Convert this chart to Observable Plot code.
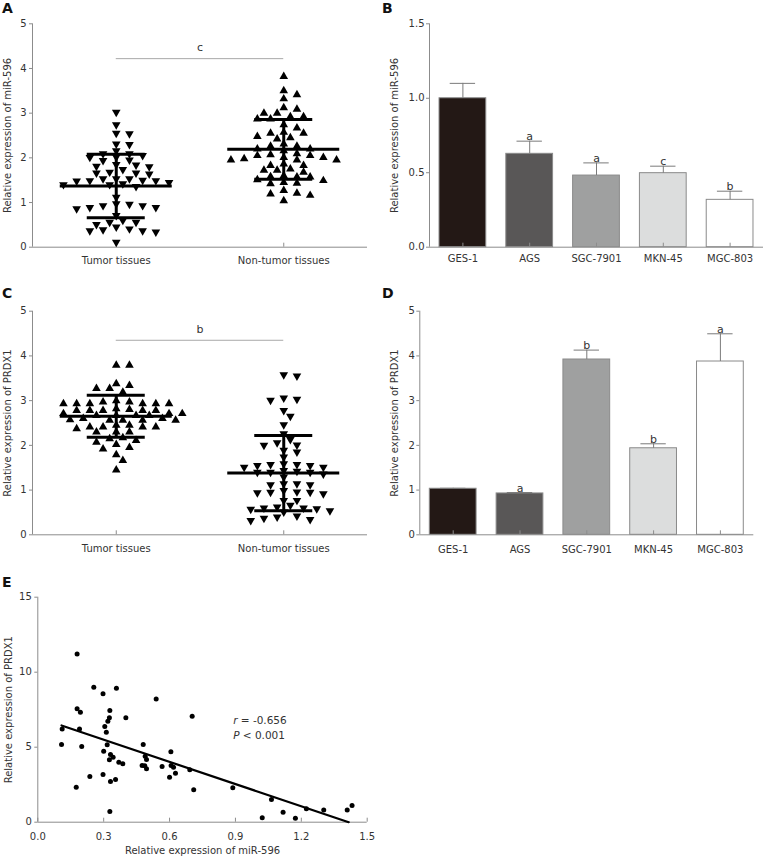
<!DOCTYPE html>
<html>
<head>
<meta charset="utf-8">
<script src="https://cdn.jsdelivr.net/npm/d3@7"></script>
<script src="https://cdn.jsdelivr.net/npm/@observablehq/plot@0.6"></script>
<style>
  html, body { margin: 0; padding: 0; background: #fff; }
  #fig { position: relative; width: 765px; height: 860px; overflow: hidden; font-family: "DejaVu Sans", Verdana, sans-serif; }
  .letter { position: absolute; font-weight: bold; font-size: 14px; line-height: 1; color: #111; }
  #fig svg { position: absolute; }
</style>
</head>
<body>
<div id="fig"></div>
<script>
// ---------------- data ----------------
const scatterGroups = ["Tumor tissues", "Non-tumor tissues"];
const scatterYTicks = [0, 1, 2, 3, 4, 5];

// A: miR-596 in tissues
const miR596Tumor = [3.02, 2.74, 2.54, 2.55, 2.30, 2.31, 2.16, 2.09, 2.09, 2.01, 1.94, 1.95, 2.02, 2.05, 1.84, 1.81, 1.68, 1.85, 1.74, 1.80, 1.66, 1.64, 1.66, 1.49, 1.53, 1.53, 1.49, 1.48, 1.53, 1.45, 1.50, 1.40, 1.36, 1.42, 1.40, 1.12, 0.97, 0.93, 0.89, 0.93, 0.86, 0.89, 0.96, 0.71, 0.56, 0.51, 0.45, 0.56, 0.60, 0.41, 0.37, 0.39, 0.34, 0.37, 0.11];
const miR596NonTumor = [3.82, 3.50, 3.41, 3.32, 3.12, 3.09, 3.00, 2.92, 3.00, 2.92, 2.87, 2.87, 2.74, 2.67, 2.57, 2.55, 2.55, 2.48, 2.45, 2.42, 2.31, 2.26, 2.26, 2.20, 2.20, 2.16, 2.09, 2.05, 2.01, 2.07, 2.05, 1.95, 1.95, 1.95, 1.98, 2.01, 1.86, 1.83, 1.83, 1.68, 1.75, 1.72, 1.72, 1.57, 1.57, 1.49, 1.51, 1.60, 1.58, 1.43, 1.42, 1.45, 1.27, 1.21, 1.19, 1.16, 1.04];
const miR596Mean = [1.37, 2.19];
const miR596SD = [0.71, 0.67];
const miR596Sig = "c";
const miR596SigLevel = 4.22;

// C: PRDX1 in tissues
const prdx1Tumor = [3.79, 3.79, 3.34, 3.27, 3.27, 3.38, 3.19, 2.93, 2.93, 3.00, 2.93, 2.97, 2.93, 2.93, 2.97, 2.93, 2.78, 2.78, 2.82, 2.78, 2.78, 2.78, 2.80, 2.71, 2.67, 2.67, 2.67, 2.67, 2.71, 2.71, 2.56, 2.60, 2.56, 2.56, 2.57, 2.56, 2.60, 2.45, 2.41, 2.37, 2.41, 2.41, 2.45, 2.41, 2.30, 2.30, 2.30, 2.15, 2.17, 2.02, 2.07, 2.11, 1.95, 1.92, 1.79, 1.66, 1.45];
const prdx1NonTumor = [3.55, 3.58, 3.03, 3.01, 3.06, 2.78, 2.65, 2.46, 2.26, 2.13, 2.01, 2.06, 2.00, 1.89, 1.85, 1.74, 1.59, 1.55, 1.51, 1.57, 1.51, 1.55, 1.57, 1.42, 1.36, 1.29, 1.40, 1.40, 1.40, 1.44, 1.14, 1.12, 1.12, 1.14, 0.92, 0.99, 0.95, 0.95, 0.96, 0.94, 0.77, 0.77, 0.54, 0.60, 0.58, 0.62, 0.60, 0.66, 0.57, 0.51, 0.42, 0.37, 0.32, 0.34, 0.40];
const prdx1Mean = [2.65, 1.38];
const prdx1SD = [0.47, 0.84];
const prdx1Sig = "b";
const prdx1SigLevel = 4.35;

// B / D: cell lines
const cellLines = ["GES-1", "AGS", "SGC-7901", "MKN-45", "MGC-803"];
const cellFills = ["#231815", "#595757", "#9fa0a0", "#dcdddd", "#ffffff"];
const miR596Cells = [1.0, 0.627, 0.481, 0.497, 0.318];
const miR596CellsErr = [0.10, 0.085, 0.085, 0.047, 0.058];
const miR596CellsSig = ["", "a", "a", "c", "b"];
const miR596CellsTicks = [0, 0.5, 1.0, 1.5];
const prdx1Cells = [1.03, 0.925, 3.92, 1.935, 3.875];
const prdx1CellsErr = [0.01, 0.02, 0.21, 0.10, 0.62];
const prdx1CellsSig = ["", "a", "b", "b", "a"];
const prdx1CellsTicks = [0, 1, 2, 3, 4, 5];

// E: correlation
const corrMiR596 = [0.179, 0.255, 0.297, 0.358, 0.539, 0.179, 0.194, 0.328, 0.401, 0.703, 0.326, 0.319, 0.305, 0.111, 0.190, 0.312, 0.108, 0.200, 0.316, 0.480, 0.300, 0.606, 0.331, 0.343, 0.326, 0.489, 0.495, 0.369, 0.387, 0.475, 0.487, 0.566, 0.607, 0.618, 0.495, 0.692, 0.627, 0.600, 0.237, 0.297, 0.354, 0.331, 0.175, 0.710, 0.888, 0.328, 1.064, 1.117, 1.223, 1.302, 1.022, 1.173, 1.409, 1.431];
const corrPRDX1 = [11.22, 9.00, 8.56, 8.93, 8.22, 7.56, 7.33, 7.44, 6.96, 7.07, 6.96, 6.73, 6.38, 6.22, 6.22, 6.00, 5.18, 5.04, 5.16, 5.18, 4.73, 4.69, 4.51, 4.33, 4.16, 4.40, 4.18, 4.00, 3.89, 3.78, 3.76, 3.71, 3.78, 3.67, 3.56, 3.49, 3.27, 3.00, 3.04, 3.18, 2.84, 2.71, 2.33, 2.16, 2.29, 0.71, 1.51, 0.67, 0.89, 0.82, 0.29, 0.27, 0.82, 1.11];
const fitIntercept = 6.98;
const fitSlope = -4.93;
const corrR = "-0.656";
const corrP = "0.001";
const corrXTicks = [0, 0.3, 0.6, 0.9, 1.2, 1.5];
const corrYTicks = [0, 5, 10, 15];

// ---------------- helpers ----------------
const AX = "#8c8c8c";
const TXT = "#333";
const FONT = "'DejaVu Sans', Verdana, sans-serif";
const FS = 10;
const fig = document.getElementById("fig");
const S3 = Math.sqrt(3);
const triUp = {draw(ctx, size) { const y = Math.sqrt(size / (3 * S3)); ctx.moveTo(0, -2 * y); ctx.lineTo(S3 * y, y); ctx.lineTo(-S3 * y, y); ctx.closePath(); }};
const triDown = {draw(ctx, size) { const y = Math.sqrt(size / (3 * S3)); ctx.moveTo(0, 2 * y); ctx.lineTo(S3 * y, -y); ctx.lineTo(-S3 * y, -y); ctx.closePath(); }};
const fmtInt = d3.format("d");

function place(el, left, top) { el.style.left = left + "px"; el.style.top = top + "px"; fig.appendChild(el); }
function letter(t, left, top) { const d = document.createElement("div"); d.className = "letter"; d.textContent = t; place(d, left, top); }
const baseStyle = {fontFamily: FONT, fontSize: FS + "px", color: TXT, background: "transparent", overflow: "visible"};

// simple beeswarm: returns horizontal pixel offsets
function swarm(vals, ky, step = 6.6, ax = 11.5, ay = 6) {
  const order = d3.range(vals.length).sort((a, b) => vals[b] - vals[a]);
  const placed = [], out = new Array(vals.length);
  for (const i of order) {
    const py = vals[i] * ky;
    for (let k = 0; k < 400; k++) {
      const off = k === 0 ? 0 : (k % 2 ? 1 : -1) * Math.ceil(k / 2) * step;
      const ok = placed.every(p => ((p.x - off) / ax) ** 2 + ((p.y - py) / ay) ** 2 >= 1);
      if (ok) { placed.push({x: off, y: py}); out[i] = off; break; }
    }
  }
  return out;
}

function yLabel(text, offset) {
  return Plot.text([text], {frameAnchor: "left", textAnchor: "middle", lineAnchor: "middle", rotate: -90, dx: -offset, text: d => d, fontSize: FS, fill: TXT});
}

function scatterPanel(cfg) {
  const {w, h, m, groups, data, symbols, mean, sd, sig, sigLevel, ylabel, labelOffset, tickPad} = cfg;
  const pw = w - m.left - m.right, ph = h - m.top - m.bottom;
  const kx = pw / 2, ky = ph / 5;
  const pts = [];
  data.forEach((vals, gi) => {
    const xs = swarm(vals, ky);
    vals.forEach((v, i) => pts.push({x: gi + 0.5 + xs[i] / kx, y: v, g: gi}));
  });
  const sum = groups.map((g, gi) => ({c: gi + 0.5, m: mean[gi], lo: mean[gi] - sd[gi], hi: mean[gi] + sd[gi]}));
  const meanHalf = 56 / kx, sdHalf = 29 / kx;
  return Plot.plot({
    width: w, height: h, marginTop: m.top, marginRight: m.right, marginBottom: m.bottom, marginLeft: m.left,
    x: {domain: [0, 2]}, y: {domain: [0, 5]},
    style: baseStyle,
    marks: [
      Plot.ruleY([0], {stroke: AX}),
      Plot.ruleX([0], {stroke: AX}),
      Plot.axisY({ticks: scatterYTicks, tickFormat: fmtInt, tickSize: 3, tickPadding: 3, stroke: AX, fill: TXT, label: null, fontSize: FS}),
      Plot.axisX({ticks: [0.5, 1.5], tickFormat: d => groups[Math.floor(d)], tickSize: 0, tickPadding: tickPad, fill: TXT, label: null, fontSize: FS}),
      Plot.tickX([0.5, 1.5], {x: d => d, insetTop: ph - 4, stroke: AX}),
      Plot.ruleY([sigLevel], {x1: 0.5, x2: 1.5, stroke: "#a8a8a8"}),
      Plot.text([sig], {x: 1, y: sigLevel, text: d => d, dy: -11, fontSize: 11, fill: TXT}),
      Plot.dot(pts.filter(d => d.g === 0), {x: "x", y: "y", symbol: symbols[0], r: 3.2, fill: "#000", stroke: "none"}),
      Plot.dot(pts.filter(d => d.g === 1), {x: "x", y: "y", symbol: symbols[1], r: 3.2, fill: "#000", stroke: "none"}),
      Plot.ruleY(sum, {y: "m", x1: d => d.c - meanHalf, x2: d => d.c + meanHalf, stroke: "#000", strokeWidth: 3}),
      Plot.ruleY(sum, {y: "hi", x1: d => d.c - sdHalf, x2: d => d.c + sdHalf, stroke: "#000", strokeWidth: 3}),
      Plot.ruleY(sum, {y: "lo", x1: d => d.c - sdHalf, x2: d => d.c + sdHalf, stroke: "#000", strokeWidth: 3}),
      Plot.ruleX(sum, {x: "c", y1: "lo", y2: "hi", stroke: "#000", strokeWidth: 3}),
      yLabel(ylabel, labelOffset)
    ]
  });
}

function barPanel(cfg) {
  const {w, h, m, vals, errs, sigs, ticks, fmt, ymax, ylabel, labelOffset, tickPad} = cfg;
  const ph = h - m.top - m.bottom;
  const n = cellLines.length;
  const data = cellLines.map((c, i) => ({i, c, v: vals[i], e: errs[i], s: sigs[i], f: cellFills[i]}));
  const capHalf = 0.19;
  return Plot.plot({
    width: w, height: h, marginTop: m.top, marginRight: m.right, marginBottom: m.bottom, marginLeft: m.left,
    x: {domain: [0, n]}, y: {domain: [0, ymax]}, color: {type: "identity"},
    style: baseStyle,
    marks: [
      Plot.rect(data, {x1: d => d.i + 0.15, x2: d => d.i + 0.85, y1: 0, y2: "v", fill: "f", stroke: "#8a8a8a", strokeWidth: 1}),
      Plot.ruleX(data, {x: d => d.i + 0.5, y1: "v", y2: d => d.v + d.e, stroke: "#7a7a7a"}),
      Plot.ruleY(data, {y: d => d.v + d.e, x1: d => d.i + 0.5 - capHalf, x2: d => d.i + 0.5 + capHalf, stroke: "#7a7a7a"}),
      Plot.text(data.filter(d => d.s), {x: d => d.i + 0.5, y: d => d.v + d.e, text: "s", lineAnchor: "bottom", dy: -1, fontSize: 11, fill: TXT}),
      Plot.ruleY([0], {stroke: AX}),
      Plot.ruleX([0], {stroke: AX}),
      Plot.axisY({ticks, tickFormat: fmt, tickSize: 3, tickPadding: 2, stroke: AX, fill: TXT, label: null, fontSize: FS}),
      Plot.axisX({ticks: d3.range(n).map(i => i + 0.5), tickFormat: d => cellLines[Math.floor(d)], tickSize: 0, tickPadding: tickPad, fill: TXT, label: null, fontSize: FS}),
      Plot.tickX(d3.range(n).map(i => i + 0.5), {x: d => d, insetTop: ph - 4, stroke: AX}),
      yLabel(ylabel, labelOffset)
    ]
  });
}

// ---------------- panels ----------------
const A = scatterPanel({w: 380, h: 290, m: {top: 23.3, right: 13, bottom: 43.3, left: 32},
  groups: scatterGroups, data: [miR596Tumor, miR596NonTumor], symbols: [triDown, triUp],
  mean: miR596Mean, sd: miR596SD, sig: miR596Sig, sigLevel: miR596SigLevel,
  ylabel: "Relative expression of miR-596", labelOffset: 24.5, tickPad: 10});
place(A, 0, 0);

const C = scatterPanel({w: 380, h: 290, m: {top: 20.7, right: 13, bottom: 45.7, left: 32},
  groups: scatterGroups, data: [prdx1Tumor, prdx1NonTumor], symbols: [triUp, triDown],
  mean: prdx1Mean, sd: prdx1SD, sig: prdx1Sig, sigLevel: prdx1SigLevel,
  ylabel: "Relative expression of PRDX1", labelOffset: 25, tickPad: 10});
place(C, 0, 290);

const B = barPanel({w: 385, h: 290, m: {top: 23.3, right: 2, bottom: 43.3, left: 49},
  vals: miR596Cells, errs: miR596CellsErr, sigs: miR596CellsSig, ticks: miR596CellsTicks, fmt: d3.format(".1f"), ymax: 1.5,
  ylabel: "Relative expression of miR-596", labelOffset: 35, tickPad: 8});
place(B, 380, 0);

const D = barPanel({w: 385, h: 290, m: {top: 20.7, right: 11.7, bottom: 45.7, left: 39.3},
  vals: prdx1Cells, errs: prdx1CellsErr, sigs: prdx1CellsSig, ticks: prdx1CellsTicks, fmt: fmtInt, ymax: 5,
  ylabel: "Relative expression of PRDX1", labelOffset: 25, tickPad: 11});
place(D, 380, 290);

// E: correlation
const ePts = corrMiR596.map((x, i) => ({x, y: corrPRDX1[i]}));
const xMin = d3.min(corrMiR596);
const xZero = -fitIntercept / fitSlope;
const fitPts = [xMin, xZero].map(x => ({x, y: fitIntercept + fitSlope * x}));
const eM = {top: 16.7, right: 33.3, bottom: 38.3, left: 37.3};
const ePh = 280 - eM.top - eM.bottom;
const E = Plot.plot({
  width: 400, height: 280, marginTop: eM.top, marginRight: eM.right, marginBottom: eM.bottom, marginLeft: eM.left,
  x: {domain: [0, 1.5]}, y: {domain: [0, 15]},
  style: baseStyle,
  marks: [
    Plot.ruleY([0], {stroke: AX}),
    Plot.ruleX([0], {stroke: AX}),
    Plot.axisY({ticks: corrYTicks, tickFormat: fmtInt, tickSize: 3, tickPadding: 3, stroke: AX, fill: TXT, label: null, fontSize: FS}),
    Plot.axisX({ticks: corrXTicks, tickFormat: d3.format(".1f"), tickSize: 0, tickPadding: 11, fill: TXT, label: null, fontSize: FS}),
    Plot.tickX(corrXTicks, {x: d => d, insetTop: ePh - 4, stroke: AX}),
    Plot.line(fitPts, {x: "x", y: "y", stroke: "#000", strokeWidth: 2.2}),
    Plot.dot(ePts, {x: "x", y: "y", r: 2.5, fill: "#000", stroke: "none"}),
    Plot.text(["r"], {x: 0.89, y: 6.8, text: d => d, textAnchor: "start", fontStyle: "italic", fontSize: 10.5, fill: TXT}),
    Plot.text(["= " + corrR], {x: 0.89, y: 6.8, text: d => d, textAnchor: "start", dx: 7.5, fontSize: 10.5, fill: TXT}),
    Plot.text(["P"], {x: 0.89, y: 5.75, text: d => d, textAnchor: "start", fontStyle: "italic", fontSize: 10.5, fill: TXT}),
    Plot.text(["< " + corrP], {x: 0.89, y: 5.75, text: d => d, textAnchor: "start", dx: 9.5, fontSize: 10.5, fill: TXT}),
    yLabel("Relative expression of PRDX1", 29),
    Plot.text(["Relative expression of miR-596"], {frameAnchor: "bottom", dy: 32, text: d => d, fontSize: FS, fill: TXT})
  ]
});
place(E, 0, 580);

letter("A", 2, 1);
letter("B", 382, 1);
letter("C", 2, 286);
letter("D", 382, 286);
letter("E", 2, 575);
</script>
</body>
</html>
